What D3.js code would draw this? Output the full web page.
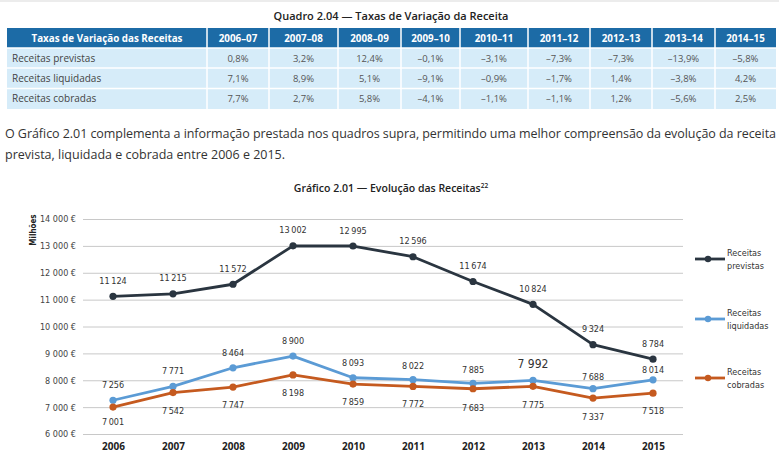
<!DOCTYPE html>
<html><head><meta charset="utf-8">
<script src="https://cdn.jsdelivr.net/npm/d3@7"></script>
<style>body{margin:0;background:#fff}svg{display:block}</style>
</head><body><svg id="c" width="779" height="468"></svg>
<script>
// ---------- data ----------
const tableTitle = "Quadro 2.04 — Taxas de Variação da Receita";
const tableHeadLabel = "Taxas de Variação das Receitas";
const periods = ["2006–07","2007–08","2008–09","2009–10","2010–11","2011–12","2012–13","2013–14","2014–15"];
const rowLabels = ["Receitas previstas","Receitas liquidadas","Receitas cobradas"];
const ratesPrevistas = ["0,8%","3,2%","12,4%","–0,1%","–3,1%","–7,3%","–7,3%","–13,9%","–5,8%"];
const ratesLiquidadas = ["7,1%","8,9%","5,1%","–9,1%","–0,9%","–1,7%","1,4%","–3,8%","4,2%"];
const ratesCobradas = ["7,7%","2,7%","5,8%","–4,1%","–1,1%","–1,1%","1,2%","–5,6%","2,5%"];

const paragraph = [
  "O Gráfico 2.01 complementa a informação prestada nos quadros supra, permitindo uma melhor compreensão da evolução da receita",
  "prevista, liquidada e cobrada entre 2006 e 2015."
];

const chartTitle = "Gráfico 2.01 — Evolução das Receitas";
const chartTitleNote = "22";
const yAxisLabel = "Milhões";
const years = [2006,2007,2008,2009,2010,2011,2012,2013,2014,2015];
const previstas  = [11124,11215,11572,13002,12995,12596,11674,10824,9324,8784];
const liquidadas = [7256,7771,8464,8900,8093,8022,7885,7992,7688,8014];
const cobradas   = [7001,7542,7747,8198,7859,7772,7683,7775,7337,7518];
const yTicks = [6000,7000,8000,9000,10000,11000,12000,13000,14000];
const seriesNames = [["Receitas","previstas"],["Receitas","liquidadas"],["Receitas","cobradas"]];

// ---------- drawing ----------
const svg = d3.select("#c");
const sans = "'Open Sans', 'Noto Sans', sans-serif";
const narrow = "'Liberation Sans Narrow', 'DejaVu Sans Condensed', Roboto, sans-serif";

svg.append("rect").attr("x",0).attr("y",0).attr("width",779).attr("height",2).attr("fill","#ececec");

// Table
svg.append("text").attr("x",391).attr("y",20).attr("text-anchor","middle")
  .attr("font-family",sans).attr("font-weight",600).attr("font-size",11).attr("fill","#222")
  .text(tableTitle);

const colEdges = [7,207,269,338,401,460,528,590,652,715,776];
const rowEdges = [28,48,68,88.5,109];
const headBlue = "#1c6ba6", rowBlue = "#d6ecf9";

svg.append("rect").attr("x",colEdges[0]).attr("y",rowEdges[0])
  .attr("width",colEdges[10]-colEdges[0]).attr("height",rowEdges[1]-rowEdges[0]).attr("fill",headBlue);
svg.append("rect").attr("x",colEdges[0]).attr("y",rowEdges[1])
  .attr("width",colEdges[10]-colEdges[0]).attr("height",rowEdges[4]-rowEdges[1]).attr("fill",rowBlue);
svg.selectAll("line.vsep").data(colEdges.slice(1,10)).join("line").attr("class","vsep")
  .attr("x1",d=>d).attr("x2",d=>d).attr("y1",rowEdges[0]).attr("y2",rowEdges[4])
  .attr("stroke","#fff").attr("stroke-width",1.5);
svg.selectAll("line.hsep").data(rowEdges.slice(1,4)).join("line").attr("class","hsep")
  .attr("x1",colEdges[0]).attr("x2",colEdges[10]).attr("y1",d=>d).attr("y2",d=>d)
  .attr("stroke","#fff").attr("stroke-width",1.5);

const headY = (rowEdges[0]+rowEdges[1])/2 + 3.5;
svg.append("text").attr("x",(colEdges[0]+colEdges[1])/2).attr("y",headY).attr("text-anchor","middle")
  .attr("font-family",sans).attr("font-weight",700).attr("font-size",9.8).attr("fill","#fff").text(tableHeadLabel);
svg.selectAll("text.ph").data(periods).join("text").attr("class","ph")
  .attr("x",(d,i)=>(colEdges[i+1]+colEdges[i+2])/2).attr("y",headY).attr("text-anchor","middle")
  .attr("font-family",sans).attr("font-weight",700).attr("font-size",9.8).attr("fill","#fff").text(d=>d);

const rateRows = [ratesPrevistas, ratesLiquidadas, ratesCobradas];
rateRows.forEach((vals,r)=>{
  const cy = (rowEdges[r+1]+rowEdges[r+2])/2 + 3.5;
  svg.append("text").attr("x",12).attr("y",cy).attr("font-family",sans).attr("font-size",10)
    .attr("fill","#444").text(rowLabels[r]);
  svg.selectAll("text.rv"+r).data(vals).join("text").attr("class","rv"+r)
    .attr("x",(d,i)=>(colEdges[i+1]+colEdges[i+2])/2).attr("y",cy).attr("text-anchor","middle")
    .attr("font-family",sans).attr("font-size",9.5).attr("fill","#555").text(d=>d);
});

// Paragraph
svg.append("text").attr("x",5).attr("y",138).attr("font-family",sans).attr("font-size",12.5)
  .attr("fill","#333").attr("textLength",771).attr("lengthAdjust","spacing").text(paragraph[0]);
svg.append("text").attr("x",5).attr("y",159).attr("font-family",sans).attr("font-size",12.5)
  .attr("fill","#333").text(paragraph[1]);

// Chart title
const ct = svg.append("text").attr("x",391).attr("y",192).attr("text-anchor","middle")
  .attr("font-family",sans).attr("font-weight",600).attr("font-size",10.5).attr("fill","#222");
ct.append("tspan").text(chartTitle);
ct.append("tspan").attr("font-size",6.5).attr("dy",-4).text(chartTitleNote);

// Scales
const x = d3.scalePoint().domain(years).range([83,683]).padding(0.5);
const y = d3.scaleLinear().domain([6000,14000]).range([434,219]);
const fmt = v => d3.format(",")(v).replace(/,/g," ");
const fmtThin = v => d3.format(",")(v).replace(/,/g,"\u2009");

// Grid + y axis
const yAxis = d3.axisLeft(y).tickValues(yTicks).tickSize(-600).tickFormat(v=>fmt(v)+" €").tickPadding(7);
const ga = svg.append("g").attr("transform","translate(83,0)").call(yAxis);
ga.select(".domain").remove();
ga.selectAll(".tick line").attr("stroke","#c8c8c8").attr("stroke-width",1);
ga.selectAll(".tick text").attr("font-family",narrow).attr("font-size",9).attr("fill","#444");

svg.append("text").attr("transform","translate(36,230) rotate(-90)").attr("text-anchor","middle")
  .attr("font-family",narrow).attr("font-weight",700).attr("font-size",8).attr("fill","#222").text(yAxisLabel);

// X axis labels
const xAxis = d3.axisBottom(x).tickSize(0).tickPadding(0);
const gx = svg.append("g").attr("transform","translate(0,450)").call(xAxis);
gx.select(".domain").remove();
gx.selectAll(".tick text").attr("font-family",sans).attr("font-weight",700).attr("font-size",10)
  .attr("fill","#222").attr("dy",0);

// Series (label offsets are layout: position of each value label relative to its point)
const series = [
  {vals:previstas, color:"#2a3540", lab:[-12.5,-12.5,-12.5,-12.5,-12.5,-12.5,-12.5,-12.5,-12.5,-12.5], legY:259},
  {vals:liquidadas, color:"#5b9bd5", lab:[-12,-12,-12,-12.5,-12,-10.5,-10,-12,-8.5,-6.5], legY:319},
  {vals:cobradas, color:"#c55a1f", lab:[18,21.5,21,21,21,21,22,21.5,21.5,21], legY:378}
];
const line = d3.line().x((d,i)=>x(years[i])).y(d=>y(d));
series.forEach((s,k)=>{
  svg.append("path").attr("d",line(s.vals)).attr("fill","none").attr("stroke",s.color)
    .attr("stroke-width",2.8).attr("stroke-linejoin","round");
  svg.selectAll("circle.m"+k).data(s.vals).join("circle").attr("class","m"+k)
    .attr("cx",(d,i)=>x(years[i])).attr("cy",d=>y(d)).attr("r",3.6).attr("fill",s.color);
  svg.selectAll("text.l"+k).data(s.vals).join("text").attr("class","l"+k)
    .attr("x",(d,i)=>x(years[i])).attr("y",(d,i)=>y(d)+s.lab[i]).attr("text-anchor","middle")
    .attr("font-family",narrow).attr("font-size",(d,i)=>(k===1&&i===7)?12:9).attr("fill","#333")
    .text((d,i)=>(k===1&&i===7)?fmt(d):fmtThin(d));
  // legend
  svg.append("line").attr("x1",695).attr("x2",725).attr("y1",s.legY).attr("y2",s.legY)
    .attr("stroke",s.color).attr("stroke-width",2.8);
  svg.append("circle").attr("cx",708).attr("cy",s.legY).attr("r",3.2).attr("fill",s.color);
  const lt = svg.append("text").attr("x",727).attr("y",s.legY-3.5).attr("font-family",narrow)
    .attr("font-size",9).attr("fill","#333");
  lt.append("tspan").attr("x",727).text(seriesNames[k][0]);
  lt.append("tspan").attr("x",727).attr("dy",13).text(seriesNames[k][1]);
});
</script></body></html>
